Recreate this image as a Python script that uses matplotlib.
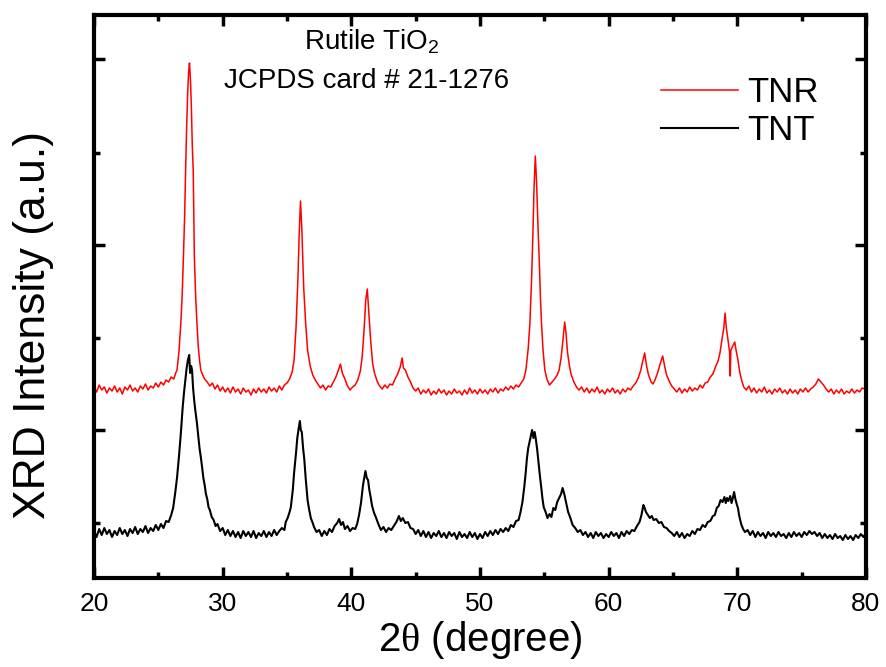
import matplotlib
matplotlib.use('Agg')
import matplotlib.pyplot as plt
from matplotlib.ticker import FixedLocator

plt.rcParams['font.family'] = ['Liberation Sans', 'DejaVu Sans']
plt.rcParams['mathtext.fontset'] = 'custom'
plt.rcParams['mathtext.rm'] = 'Liberation Serif'
plt.rcParams['mathtext.sf'] = 'Liberation Sans'

# TNR pattern (2theta in degree, intensity in a.u. as plotted, already offset)
tnr = [
    (20.0, 191), (20.2, 186), (20.4, 193), (20.6, 188), (20.8, 191), (21.0, 185), (21.2, 190), (21.4, 187), (21.6, 192), (21.8, 186),
    (22.0, 190), (22.2, 184), (22.4, 191), (22.6, 188), (22.8, 193), (23.0, 187), (23.2, 190), (23.4, 186), (23.6, 192), (23.8, 189),
    (24.0, 194), (24.2, 188), (24.4, 192), (24.6, 190), (24.8, 195), (25.0, 191), (25.2, 196), (25.4, 193), (25.6, 198), (25.8, 196),
    (26.0, 201), (26.2, 199), (26.35, 205), (26.45, 208), (26.6, 226), (26.75, 255), (26.85, 282), (26.95, 321), (27.05, 365), (27.12, 408),
    (27.2, 450), (27.28, 485), (27.35, 505), (27.42, 515), (27.5, 498), (27.57, 470), (27.64, 432), (27.71, 408), (27.8, 321), (27.9, 282),
    (28.0, 255), (28.1, 232), (28.2, 218), (28.3, 208), (28.45, 203), (28.6, 199), (28.8, 196), (29.0, 192), (29.2, 195), (29.4, 189),
    (29.6, 193), (29.8, 187), (30.0, 191), (30.2, 186), (30.4, 190), (30.6, 185), (30.8, 191), (31.0, 186), (31.2, 189), (31.4, 184),
    (31.6, 190), (31.8, 186), (32.0, 188), (32.2, 183), (32.4, 189), (32.6, 185), (32.8, 190), (33.0, 186), (33.2, 189), (33.4, 185),
    (33.6, 191), (33.8, 187), (34.0, 190), (34.2, 186), (34.4, 192), (34.6, 188), (34.8, 193), (35.0, 195), (35.2, 199), (35.4, 206),
    (35.55, 218), (35.7, 250), (35.85, 300), (35.95, 345), (36.05, 377), (36.15, 350), (36.3, 290), (36.45, 255), (36.6, 228), (36.8, 212),
    (37.0, 203), (37.2, 198), (37.4, 194), (37.6, 190), (37.8, 193), (38.0, 188), (38.2, 192), (38.4, 191), (38.6, 196), (38.8, 201),
    (39.0, 208), (39.15, 214), (39.3, 205), (39.5, 199), (39.7, 192), (39.9, 188), (40.1, 191), (40.3, 193), (40.5, 198), (40.7, 207),
    (40.85, 222), (41.0, 250), (41.12, 278), (41.24, 289), (41.35, 268), (41.5, 238), (41.65, 215), (41.8, 205), (42.0, 197), (42.2, 192),
    (42.4, 189), (42.6, 193), (42.8, 190), (43.0, 194), (43.2, 193), (43.4, 199), (43.6, 204), (43.8, 211), (43.95, 220), (44.05, 210),
    (44.2, 208), (44.4, 201), (44.6, 196), (44.8, 190), (45.0, 187), (45.2, 190), (45.4, 184), (45.6, 188), (45.8, 185), (46.0, 189),
    (46.2, 183), (46.4, 187), (46.6, 184), (46.8, 189), (47.0, 185), (47.2, 188), (47.4, 183), (47.6, 187), (47.8, 184), (48.0, 189),
    (48.2, 185), (48.4, 187), (48.6, 183), (48.8, 188), (49.0, 184), (49.2, 190), (49.4, 185), (49.6, 188), (49.8, 184), (50.0, 189),
    (50.2, 185), (50.4, 188), (50.6, 184), (50.8, 189), (51.0, 186), (51.2, 190), (51.4, 185), (51.6, 189), (51.8, 187), (52.0, 191),
    (52.2, 188), (52.4, 192), (52.6, 189), (52.8, 193), (53.0, 191), (53.2, 195), (53.4, 199), (53.57, 208), (53.75, 230), (53.88, 255),
    (54.0, 295), (54.1, 338), (54.2, 390), (54.3, 422), (54.4, 395), (54.5, 355), (54.6, 320), (54.7, 280), (54.78, 255), (54.9, 228),
    (55.04, 208), (55.2, 199), (55.4, 193), (55.6, 196), (55.8, 199), (56.0, 203), (56.15, 208), (56.3, 220), (56.45, 238), (56.58, 256),
    (56.68, 246), (56.8, 226), (56.95, 212), (57.1, 203), (57.3, 196), (57.5, 191), (57.7, 188), (57.9, 191), (58.1, 186), (58.3, 190),
    (58.5, 185), (58.7, 189), (58.9, 186), (59.1, 191), (59.3, 185), (59.5, 188), (59.7, 184), (59.9, 189), (60.1, 186), (60.3, 190),
    (60.5, 185), (60.7, 188), (60.9, 184), (61.1, 189), (61.3, 186), (61.5, 190), (61.7, 188), (61.9, 192), (62.1, 195), (62.3, 200),
    (62.5, 208), (62.65, 217), (62.8, 225), (62.95, 212), (63.1, 203), (63.3, 196), (63.45, 194), (63.6, 198), (63.8, 205), (64.0, 214),
    (64.2, 222), (64.35, 212), (64.5, 203), (64.7, 197), (64.9, 192), (65.1, 189), (65.3, 186), (65.5, 190), (65.7, 185), (65.9, 189),
    (66.1, 186), (66.3, 191), (66.5, 187), (66.7, 190), (66.9, 188), (67.1, 193), (67.3, 190), (67.5, 195), (67.7, 196), (67.9, 201),
    (68.1, 204), (68.3, 211), (68.5, 217), (68.65, 225), (68.8, 238), (68.95, 250), (69.05, 265), (69.15, 250), (69.3, 236), (69.4, 226),
    (69.45, 202), (69.5, 228), (69.65, 232), (69.8, 236), (69.9, 228), (70.05, 218), (70.2, 205), (70.35, 197), (70.5, 191), (70.7, 188),
    (70.9, 192), (71.1, 186), (71.3, 190), (71.5, 185), (71.7, 189), (71.9, 186), (72.1, 191), (72.3, 185), (72.5, 188), (72.7, 184),
    (72.9, 189), (73.1, 186), (73.3, 190), (73.5, 185), (73.7, 188), (73.9, 184), (74.1, 189), (74.3, 185), (74.5, 188), (74.7, 184),
    (74.9, 189), (75.1, 186), (75.3, 190), (75.5, 186), (75.7, 189), (75.9, 191), (76.1, 194), (76.3, 199), (76.5, 196), (76.7, 193),
    (76.9, 189), (77.1, 186), (77.3, 189), (77.5, 184), (77.7, 188), (77.9, 185), (78.1, 189), (78.3, 184), (78.5, 187), (78.7, 185),
    (78.9, 189), (79.1, 185), (79.3, 188), (79.5, 186), (79.7, 190), (79.9, 189), (80.0, 192),
]

# TNT pattern
tnt = [
    (20.0, 47), (20.2, 41), (20.4, 49), (20.6, 43), (20.8, 50), (21.0, 44), (21.2, 48), (21.4, 41), (21.6, 47), (21.8, 43),
    (22.0, 50), (22.2, 44), (22.4, 48), (22.6, 42), (22.8, 49), (23.0, 45), (23.2, 51), (23.4, 44), (23.6, 49), (23.8, 46),
    (24.0, 52), (24.2, 45), (24.4, 50), (24.6, 47), (24.8, 53), (25.0, 48), (25.2, 54), (25.4, 50), (25.6, 57), (25.8, 56),
    (26.0, 63), (26.15, 70), (26.3, 84), (26.45, 100), (26.6, 121), (26.75, 145), (26.9, 172), (27.0, 186), (27.1, 198), (27.2, 210),
    (27.3, 218), (27.4, 223), (27.47, 205), (27.55, 212), (27.62, 208), (27.7, 190), (27.8, 176), (27.9, 165), (28.0, 155), (28.1, 142),
    (28.2, 130), (28.3, 121), (28.4, 111), (28.5, 100), (28.6, 93), (28.7, 84), (28.8, 79), (28.9, 71), (29.0, 68), (29.15, 61),
    (29.3, 58), (29.45, 52), (29.6, 54), (29.8, 47), (30.0, 50), (30.2, 43), (30.4, 48), (30.6, 42), (30.8, 47), (31.0, 41),
    (31.2, 46), (31.4, 40), (31.6, 47), (31.8, 42), (32.0, 46), (32.2, 41), (32.4, 47), (32.6, 40), (32.8, 45), (33.0, 42),
    (33.2, 47), (33.4, 41), (33.6, 46), (33.8, 42), (34.0, 48), (34.2, 43), (34.4, 47), (34.6, 50), (34.8, 48), (34.9, 56),
    (35.05, 60), (35.2, 66), (35.3, 71), (35.45, 88), (35.55, 105), (35.7, 125), (35.8, 140), (35.9, 149), (36.0, 157), (36.07, 148),
    (36.15, 146), (36.25, 130), (36.35, 118), (36.45, 100), (36.6, 78), (36.7, 70), (36.85, 60), (37.0, 55), (37.1, 51), (37.3, 46),
    (37.5, 48), (37.7, 42), (37.9, 47), (38.1, 43), (38.3, 49), (38.5, 46), (38.7, 52), (38.9, 55), (39.05, 59), (39.2, 53),
    (39.35, 56), (39.5, 49), (39.7, 52), (39.9, 47), (40.1, 50), (40.3, 49), (40.45, 54), (40.6, 63), (40.75, 75), (40.9, 92),
    (41.0, 100), (41.1, 107), (41.2, 100), (41.3, 98), (41.4, 88), (41.5, 81), (41.6, 73), (41.7, 68), (41.8, 64), (41.9, 61),
    (42.1, 54), (42.3, 48), (42.5, 51), (42.7, 46), (42.9, 50), (43.1, 48), (43.3, 52), (43.5, 56), (43.7, 62), (43.85, 57),
    (44.0, 60), (44.2, 55), (44.4, 56), (44.6, 50), (44.8, 49), (45.0, 44), (45.2, 48), (45.4, 42), (45.6, 47), (45.8, 41),
    (46.0, 46), (46.2, 40), (46.4, 45), (46.6, 42), (46.8, 47), (47.0, 41), (47.2, 45), (47.4, 40), (47.6, 46), (47.8, 42),
    (48.0, 45), (48.2, 39), (48.4, 46), (48.6, 41), (48.8, 44), (49.0, 40), (49.2, 46), (49.4, 41), (49.6, 45), (49.8, 39),
    (50.0, 44), (50.2, 40), (50.4, 46), (50.6, 42), (50.8, 47), (51.0, 43), (51.2, 48), (51.4, 44), (51.6, 49), (51.8, 46),
    (52.0, 50), (52.2, 47), (52.4, 53), (52.6, 51), (52.8, 57), (53.0, 58), (53.15, 66), (53.3, 76), (53.45, 92), (53.55, 105),
    (53.65, 120), (53.75, 130), (53.85, 136), (53.95, 142), (54.05, 148), (54.15, 140), (54.25, 146), (54.35, 138), (54.45, 128), (54.55, 115),
    (54.65, 103), (54.75, 92), (54.85, 80), (54.95, 71), (55.1, 66), (55.25, 60), (55.4, 64), (55.55, 61), (55.7, 70), (55.85, 68),
    (56.0, 76), (56.15, 80), (56.3, 84), (56.42, 90), (56.55, 84), (56.7, 75), (56.85, 66), (57.0, 61), (57.2, 53), (57.4, 50),
    (57.6, 46), (57.8, 48), (58.0, 43), (58.2, 46), (58.4, 41), (58.6, 45), (58.8, 40), (59.0, 46), (59.2, 42), (59.4, 45),
    (59.6, 40), (59.8, 44), (60.0, 41), (60.2, 46), (60.4, 42), (60.6, 45), (60.8, 40), (61.0, 46), (61.2, 42), (61.4, 47),
    (61.6, 44), (61.8, 48), (62.0, 47), (62.2, 52), (62.4, 56), (62.55, 63), (62.7, 73), (62.8, 70), (62.9, 66), (63.05, 63),
    (63.2, 60), (63.35, 62), (63.5, 58), (63.7, 59), (63.9, 55), (64.1, 56), (64.3, 51), (64.5, 50), (64.7, 47), (64.9, 45),
    (65.1, 42), (65.3, 46), (65.5, 41), (65.7, 45), (65.9, 40), (66.1, 44), (66.3, 42), (66.5, 47), (66.7, 44), (66.9, 49),
    (67.1, 48), (67.3, 53), (67.5, 51), (67.7, 56), (67.9, 57), (68.1, 62), (68.25, 63), (68.4, 70), (68.55, 72), (68.7, 78),
    (68.85, 76), (69.0, 81), (69.1, 75), (69.2, 80), (69.3, 77), (69.45, 82), (69.55, 75), (69.65, 80), (69.75, 86), (69.85, 79),
    (69.95, 74), (70.05, 70), (70.15, 62), (70.3, 54), (70.45, 49), (70.6, 46), (70.8, 48), (71.0, 43), (71.2, 47), (71.4, 41),
    (71.6, 46), (71.8, 42), (72.0, 45), (72.2, 40), (72.4, 46), (72.6, 42), (72.8, 45), (73.0, 41), (73.2, 46), (73.4, 42),
    (73.6, 44), (73.8, 40), (74.0, 45), (74.2, 41), (74.4, 46), (74.6, 42), (74.8, 45), (75.0, 41), (75.2, 46), (75.4, 43),
    (75.6, 47), (75.8, 44), (76.0, 46), (76.2, 42), (76.4, 45), (76.6, 40), (76.8, 44), (77.0, 40), (77.2, 43), (77.4, 39),
    (77.6, 44), (77.8, 40), (78.0, 42), (78.2, 38), (78.4, 43), (78.6, 39), (78.8, 42), (79.0, 38), (79.2, 43), (79.4, 40),
    (79.6, 44), (79.8, 41), (80.0, 45),
]

tnr_2theta, tnr_int = zip(*tnr)
tnt_2theta, tnt_int = zip(*tnt)

fig = plt.figure(figsize=(8.86, 6.67), dpi=100)
ax = fig.add_axes([0.1061, 0.1334, 0.8713, 0.8441])

ax.plot(tnr_2theta, tnr_int, color='#FF0000', lw=1.1, label='TNR')
ax.plot(tnt_2theta, tnt_int, color='black', lw=1.5, label='TNT')

ax.set_xlim(20, 80)
ax.set_ylim(0, 563)

ax.set_xticks([20, 30, 40, 50, 60, 70, 80])
ax.xaxis.set_minor_locator(FixedLocator([25, 35, 45, 55, 65, 75]))
ax.set_yticks([148, 333, 519])
ax.yaxis.set_minor_locator(FixedLocator([55, 240, 425]))
ax.set_yticklabels([])
ax.tick_params(which='both', direction='in', top=True, right=True, width=2.5)
ax.tick_params(which='major', length=8)
ax.tick_params(which='minor', length=4)
ax.tick_params(axis='x', labelsize=19, pad=10)
for s in ax.spines.values():
    s.set_linewidth(3)

ax.set_xlabel(r'2$\mathrm{\theta}$ (degree)', fontsize=29, labelpad=2)
ax.set_ylabel('XRD Intensity (a.u.)', fontsize=32)
ax.yaxis.set_label_coords(-0.052, 0.449)

ax.text(41.6, 528.7, r'Rutile TiO$_\mathsf{2}$', fontsize=20, ha='center', va='baseline')
ax.text(41.17, 489.7, 'JCPDS card # 21-1276', fontsize=20, ha='center', va='baseline')

ax.legend(loc='upper left', bbox_to_anchor=(0.735, 0.892), frameon=False, fontsize=25,
          handlelength=2.22, handletextpad=0.26, labelspacing=0.14, borderpad=0, borderaxespad=0)

plt.savefig('out.png', dpi=100)
